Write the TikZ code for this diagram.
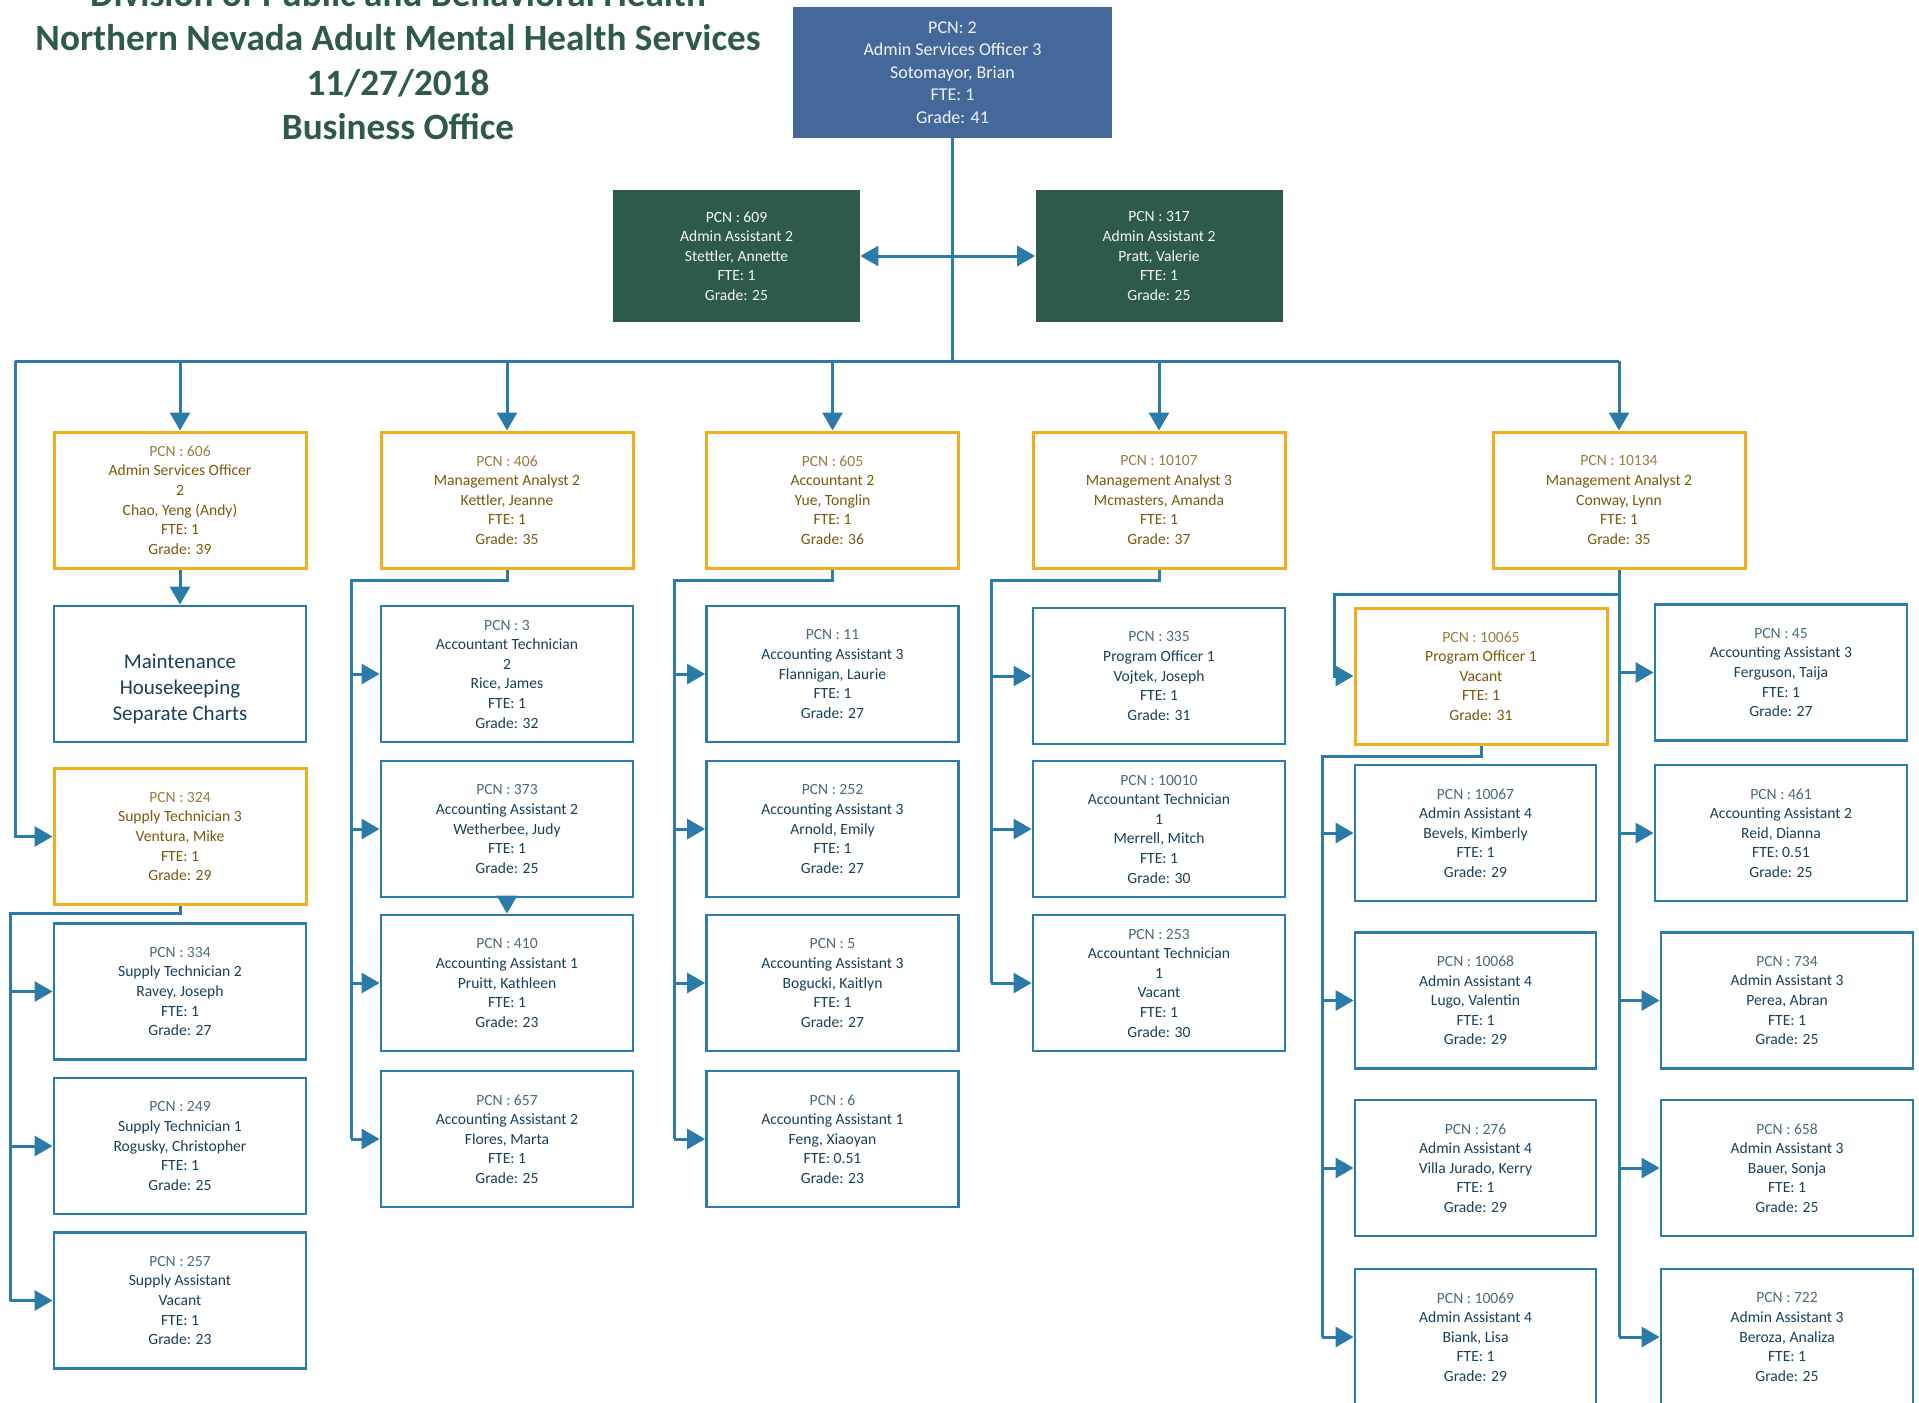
\documentclass[tikz,border=0pt]{standalone}
\usepackage{fontspec}
\setmainfont{Carlito}
\usetikzlibrary{arrows.meta}

\definecolor{wireblue}{HTML}{2A7BA9}
\definecolor{inkblue}{HTML}{1A4058}
\definecolor{leadgold}{HTML}{F2AD21}
\definecolor{inkbrown}{HTML}{7A580E}
\definecolor{headfill}{HTML}{45689B}
\definecolor{aidefill}{HTML}{2E5A49}
\definecolor{titlegreen}{HTML}{2F5A48}

\newcommand{\pcn}[1]{\textcolor{.!78!white}{PCN : #1}}

\tikzset{
  staff/.style={draw=wireblue, line width=1.4pt, minimum width=126pt, minimum height=68pt,
    inner sep=0pt, align=center, text=inkblue, font=\fontsize{7.8}{9.8}\selectfont},
  lead/.style={staff, draw=leadgold, line width=1.5pt, text=inkbrown},
  head/.style={fill=headfill, minimum width=159.5pt, minimum height=65.5pt, inner sep=0pt,
    align=center, text=white!92!headfill, font=\fontsize{9}{11.3}\selectfont},
  aide/.style={fill=aidefill, minimum width=123.5pt, minimum height=66pt, inner sep=0pt,
    align=center, text=white!95!aidefill, font=\fontsize{7.8}{9.8}\selectfont},
  wire/.style={draw=wireblue, line width=1.5pt},
  arr/.style={wire, -{Triangle[length=9pt,width=10pt]}},
  arrtwo/.style={wire, {Triangle[length=9pt,width=10pt]}-{Triangle[length=9pt,width=10pt]}}
}

\begin{document}
\begin{tikzpicture}[x=0.5pt, y=-0.5pt]
    \useasboundingbox (0,0) rectangle (1919,1403);

    % Title
    \node[font=\fontsize{18.6}{22.3}\selectfont\bfseries, text=titlegreen, align=center, inner sep=0pt]
        (title) at (398,60) {Division of Public and Behavioral Health\\Northern Nevada Adult Mental Health Services\\11/27/2018\\Business Office};

    % Head and assistants
    \node[head] (top) at (952.5,72.5) {PCN: 2\\Admin Services Officer 3\\Sotomayor, Brian\\FTE: 1\\Grade: 41};
    \node[aide] (a609) at (736.5,256) {PCN : 609\\Admin Assistant 2\\Stettler, Annette\\FTE: 1\\Grade: 25};
    \node[aide] (a317) at (1159,256) {PCN : 317\\Admin Assistant 2\\Pratt, Valerie\\FTE: 1\\Grade: 25};

    % Supervisors
    \node[lead] (o606) at (180,500) {\pcn{606}\\Admin Services Officer\\2\\Chao, Yeng (Andy)\\FTE: 1\\Grade: 39};
    \node[lead] (o406) at (507,500) {\pcn{406}\\Management Analyst 2\\Kettler, Jeanne\\FTE: 1\\Grade: 35};
    \node[lead] (o605) at (832.5,500) {\pcn{605}\\Accountant 2\\Yue, Tonglin\\FTE: 1\\Grade: 36};
    \node[lead] (o10107) at (1159,500) {\pcn{10107}\\Management Analyst 3\\Mcmasters, Amanda\\FTE: 1\\Grade: 37};
    \node[lead] (o10134) at (1619,500) {\pcn{10134}\\Management Analyst 2\\Conway, Lynn\\FTE: 1\\Grade: 35};

    % Column 1
    \node[staff, label={[yshift=-7.5pt, align=center, text=inkblue, font=\fontsize{10.5}{13}\selectfont]center:Maintenance\\Housekeeping\\Separate Charts}] (mhs) at (180,674) {};
    \node[lead] (o324) at (180,836.5) {\pcn{324}\\Supply Technician 3\\Ventura, Mike\\FTE: 1\\Grade: 29};
    \node[staff] (s334) at (180,991.5) {\pcn{334}\\Supply Technician 2\\Ravey, Joseph\\FTE: 1\\Grade: 27};
    \node[staff] (s249) at (180,1146) {\pcn{249}\\Supply Technician 1\\Rogusky, Christopher\\FTE: 1\\Grade: 25};
    \node[staff] (s257) at (180,1300.5) {\pcn{257}\\Supply Assistant\\Vacant\\FTE: 1\\Grade: 23};

    % Column 2
    \node[staff] (c3) at (507,674) {\pcn{3}\\Accountant Technician\\2\\Rice, James\\FTE: 1\\Grade: 32};
    \node[staff] (c373) at (507,829) {\pcn{373}\\Accounting Assistant 2\\Wetherbee, Judy\\FTE: 1\\Grade: 25};
    \node[staff] (c410) at (507,983) {\pcn{410}\\Accounting Assistant 1\\Pruitt, Kathleen\\FTE: 1\\Grade: 23};
    \node[staff] (c657) at (507,1139) {\pcn{657}\\Accounting Assistant 2\\Flores, Marta\\FTE: 1\\Grade: 25};

    % Column 3
    \node[staff] (c11) at (832.5,674) {\pcn{11}\\Accounting Assistant 3\\Flannigan, Laurie\\FTE: 1\\Grade: 27};
    \node[staff] (c252) at (832.5,829) {\pcn{252}\\Accounting Assistant 3\\Arnold, Emily\\FTE: 1\\Grade: 27};
    \node[staff] (c5) at (832.5,983) {\pcn{5}\\Accounting Assistant 3\\Bogucki, Kaitlyn\\FTE: 1\\Grade: 27};
    \node[staff] (c6) at (832.5,1139) {\pcn{6}\\Accounting Assistant 1\\Feng, Xiaoyan\\FTE: 0.51\\Grade: 23};

    % Column 4
    \node[staff] (c335) at (1159,676) {\pcn{335}\\Program Officer 1\\Vojtek, Joseph\\FTE: 1\\Grade: 31};
    \node[staff] (c10010) at (1159,829) {\pcn{10010}\\Accountant Technician\\1\\Merrell, Mitch\\FTE: 1\\Grade: 30};
    \node[staff] (c253) at (1159,983) {\pcn{253}\\Accountant Technician\\1\\Vacant\\FTE: 1\\Grade: 30};

    % Column 5
    \node[lead] (p10065) at (1481,676) {\pcn{10065}\\Program Officer 1\\Vacant\\FTE: 1\\Grade: 31};
    \node[staff, minimum width=120.5pt] (c10067) at (1475.5,833) {\pcn{10067}\\Admin Assistant 4\\Bevels, Kimberly\\FTE: 1\\Grade: 29};
    \node[staff, minimum width=120.5pt] (c10068) at (1475.5,1000.5) {\pcn{10068}\\Admin Assistant 4\\Lugo, Valentin\\FTE: 1\\Grade: 29};
    \node[staff, minimum width=120.5pt] (c276) at (1475.5,1168) {\pcn{276}\\Admin Assistant 4\\Villa Jurado, Kerry\\FTE: 1\\Grade: 29};
    \node[staff, minimum width=120.5pt] (c10069) at (1475.5,1337) {\pcn{10069}\\Admin Assistant 4\\Biank, Lisa\\FTE: 1\\Grade: 29};
    \node[staff] (c45) at (1781,672.5) {\pcn{45}\\Accounting Assistant 3\\Ferguson, Taija\\FTE: 1\\Grade: 27};
    \node[staff] (c461) at (1781,833) {\pcn{461}\\Accounting Assistant 2\\Reid, Dianna\\FTE: 0.51\\Grade: 25};
    \node[staff] (c734) at (1787,1000.5) {\pcn{734}\\Admin Assistant 3\\Perea, Abran\\FTE: 1\\Grade: 25};
    \node[staff] (c658) at (1787,1168) {\pcn{658}\\Admin Assistant 3\\Bauer, Sonja\\FTE: 1\\Grade: 25};
    \node[staff] (c722) at (1787,1337) {\pcn{722}\\Admin Assistant 3\\Beroza, Analiza\\FTE: 1\\Grade: 25};

    % Main bus
    \coordinate (busL) at (15,361);
    \coordinate (busR) at (1619,361);
    \draw[wire] (top.south) -- (top.south |- busL);
    \draw[wire] (busL) -- (busR);
    \draw[arrtwo] (a609.east) -- (a317.west);
    \foreach \n in {o606,o406,o605,o10107,o10134}
        \draw[arr] (\n.north |- busL) -- (\n.north);
    \draw[arr] (busL) |- (o324.west);

    % Column 1 links
    \draw[arr] (o606) -- (mhs);
    \coordinate (k1) at (10,913);
    \draw[wire] (o324.south) |- (k1) -- (k1 |- s257.west);
    \foreach \n in {s334,s249,s257}
        \draw[arr] (k1 |- \n.west) -- (\n.west);

    % Columns 2-4 links
    \coordinate (k2) at (351,580);
    \coordinate (k3) at (674,580);
    \coordinate (k4) at (991,580);
    \draw[wire] (o406.south) |- (k2) -- (k2 |- c657.west);
    \foreach \n in {c3,c373,c410,c657}
        \draw[arr] (k2 |- \n.west) -- (\n.west);
    \draw[arr] (c373) -- (c410);
    \draw[wire] (o605.south) |- (k3) -- (k3 |- c6.west);
    \foreach \n in {c11,c252,c5,c6}
        \draw[arr] (k3 |- \n.west) -- (\n.west);
    \draw[wire] (o10107.south) |- (k4) -- (k4 |- c253.west);
    \foreach \n in {c335,c10010,c253}
        \draw[arr] (k4 |- \n.west) -- (\n.west);

    % Column 5 links
    \draw[wire] (o10134.south) -- (o10134.south |- c722.west);
    \foreach \n in {c45,c461,c734,c658,c722}
        \draw[arr] (o10134.south |- \n.west) -- (\n.west);
    \coordinate (k6) at (1334,594);
    \draw[arr] (o10134.south |- k6) -- (k6) |- (p10065.west);
    \coordinate (k7) at (1322,756);
    \draw[wire] (p10065.south) |- (k7) -- (k7 |- c10069.west);
    \foreach \n in {c10067,c10068,c276,c10069}
        \draw[arr] (k7 |- \n.west) -- (\n.west);
\end{tikzpicture}
\end{document}
